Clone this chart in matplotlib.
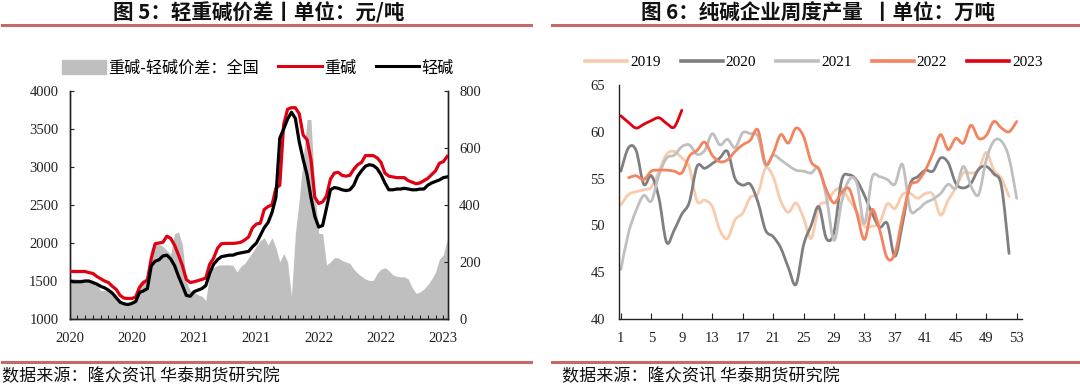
import numpy as np
import matplotlib
matplotlib.use("Agg")
import matplotlib.pyplot as plt
from matplotlib.lines import Line2D
from matplotlib.patches import Patch, PathPatch
from matplotlib.path import Path

CJK = ['Noto Sans CJK SC', 'DejaVu Sans']
SERIF = ['Liberation Serif', 'DejaVu Serif']
plt.rcParams['font.family'] = CJK

# ---------------- Left chart data (元/吨) ----------------
left_title = "图 5：轻重碱价差丨单位：元/吨"
left_xlabels = ["2020", "2020", "2021", "2021", "2022", "2022", "2023"]
heavy_soda = [1630, 1625, 1625, 1625, 1625, 1610, 1600, 1560, 1530, 1500, 1480, 1430, 1390, 1310, 1275, 1270,
              1270, 1290, 1420, 1480, 1510, 1800, 1990, 2000, 2010, 2090, 2060, 1970, 1840, 1700, 1520, 1480,
              1490, 1505, 1520, 1540, 1720, 1800, 1930, 1990, 1995, 1995, 1995, 2000, 2010, 2040, 2080, 2200,
              2250, 2260, 2440, 2480, 2500, 2720, 2760, 3560, 3760, 3780, 3780, 3700, 3420, 3360, 3100, 2600,
              2520, 2540, 2620, 2840, 2920, 2930, 2890, 2880, 2890, 2970, 3030, 3060, 3150, 3150, 3150, 3120,
              3060, 2920, 2880, 2870, 2860, 2860, 2860, 2820, 2800, 2780, 2790, 2820, 2850, 2900, 2950, 3050,
              3070, 3140]
light_soda = [1500, 1490, 1490, 1490, 1500, 1500, 1480, 1460, 1430, 1410, 1380, 1340, 1280, 1220, 1200, 1190,
              1205, 1230, 1350, 1370, 1400, 1700, 1760, 1780, 1830, 1840, 1790, 1700, 1560, 1440, 1310, 1300,
              1360, 1380, 1400, 1440, 1600, 1720, 1780, 1820, 1830, 1840, 1840, 1860, 1870, 1880, 1890, 1950,
              2000, 2100, 2200, 2270, 2400, 2600, 3380, 3500, 3630, 3720, 3640, 3330, 3100, 2900, 2600, 2350,
              2210, 2230, 2460, 2700, 2730, 2720, 2700, 2690, 2700, 2760, 2880, 2950, 3010, 3030, 3020, 2980,
              2900, 2790, 2700, 2700, 2710, 2710, 2720, 2710, 2700, 2700, 2710, 2710, 2760, 2790, 2810, 2830,
              2860, 2870]
spread = [142, 142, 140, 140, 140, 137, 125, 120, 100, 100, 100, 90, 80, 60, 55, 55,
          55, 60, 130, 140, 148, 250, 262, 262, 255, 240, 228, 300, 305, 260, 130, 100,
          95, 85, 80, 65, 160, 180, 188, 190, 190, 190, 188, 165, 185, 195, 215, 235,
          255, 275, 285, 260, 285, 250, 200, 230, 200, 80, 300, 420, 560, 700, 700, 450,
          300, 300, 190, 200, 215, 215, 205, 200, 195, 175, 160, 150, 140, 135, 135, 160,
          175, 180, 170, 155, 150, 148, 148, 140, 110, 90, 95, 105, 120, 140, 165, 210,
          225, 280]

# ---------------- Right chart data (万吨) ----------------
right_title = "图 6：纯碱企业周度产量  丨单位：万吨"
years = ["2019", "2020", "2021", "2022", "2023"]
y2019 = [52.2, 53.3, 53.6, 53.8, 54.1, 55.8, 57.6, 57.9, 57.2, 56.2, 52.6, 52.7, 52.0, 49.5, 48.6, 50.6,
         51.3, 53.0, 53.4, 56.1, 55.2, 52.6, 51.4, 52.4, 50.8, 48.6, 52.0, 52.5, 53.6, 54.0, 52.7, 51.5,
         49.9, 49.9, 50.3, 52.3, 51.8, 53.3, 53.4, 52.9, 53.4, 53.3, 51.1, 52.7, 54.0, 55.6, 55.6, 55.9,
         57.8, 55.9, 55.0, 53.1]
y2020 = [55.8, 58.3, 58.0, 54.4, 55.3, 52.9, 48.2, 49.5, 51.2, 52.5, 56.3, 56.1, 56.6, 57.2, 57.9, 55.0,
         54.3, 54.4, 52.5, 49.5, 48.8, 47.6, 45.5, 43.7, 47.9, 50.0, 52.0, 48.6, 49.3, 54.8, 55.4, 54.8,
         53.2, 51.3, 49.8, 50.2, 46.7, 50.2, 54.4, 55.2, 55.9, 55.8, 57.2, 56.7, 54.5, 54.0, 54.5, 56.0,
         56.3, 55.5, 54.2, 47.0]
y2021 = [45.3, 49.2, 51.6, 53.2, 52.6, 55.4, 57.2, 57.5, 58.4, 58.6, 57.6, 58.0, 59.8, 58.6, 59.2, 58.3,
         59.9, 59.8, 59.5, 56.4, 57.5, 57.0, 56.4, 55.9, 55.8, 55.6, 56.1, 53.0, 48.4, 52.5, 54.9, 54.5,
         50.2, 55.1, 55.2, 54.9, 54.4, 56.5, 51.7, 51.7, 52.4, 52.8, 53.4, 54.4, 54.0, 56.3, 54.2, 53.3,
         57.0, 59.0, 59.0, 57.2, 52.9]
y2022 = [np.nan, 55.1, 55.3, 54.9, 55.8, 55.9, 55.9, 55.8, 55.6, 57.4, 58.0, 58.9, 57.5, 56.8, 57.0, 57.9,
         58.6, 59.1, 60.2, 56.6, 57.7, 59.7, 58.8, 60.4, 59.5, 56.8, 56.0, 53.8, 52.4, 53.5, 53.9, 51.3,
         48.5, 51.7, 49.5, 46.5, 47.0, 50.9, 54.2, 54.7, 55.9, 57.7, 59.7, 58.1, 59.3, 58.8, 60.7, 59.3,
         59.6, 61.1, 60.4, 60.0, 61.1]
y2023 = [61.7, 61.0, 60.4, 60.8, 61.2, 61.5, 60.9, 60.5, 62.3]
right_xticks = list(range(1, 54, 4))

source_text = "数据来源：隆众资讯 华泰期货研究院"

W, H = 1080, 385
fig = plt.figure(figsize=(W / 100, H / 100), dpi=100)


def fx(px):
    return px / W


def fy(py):
    return 1 - py / H


def smooth_path(x, y, t=1 / 6):
    """Bezier path through the data points (like a spreadsheet 'smoothed line')."""
    x = np.asarray(x, float)
    y = np.asarray(y, float)
    ok = ~np.isnan(y)
    x, y = x[ok], y[ok]
    n = len(x)
    verts = [(x[0], y[0])]
    codes = [Path.MOVETO]
    for i in range(n - 1):
        p0 = (x[max(i - 1, 0)], y[max(i - 1, 0)])
        p1 = (x[i], y[i])
        p2 = (x[i + 1], y[i + 1])
        p3 = (x[min(i + 2, n - 1)], y[min(i + 2, n - 1)])
        c1 = (p1[0] + (p2[0] - p0[0]) * t, p1[1] + (p2[1] - p0[1]) * t)
        c2 = (p2[0] - (p3[0] - p1[0]) * t, p2[1] - (p3[1] - p1[1]) * t)
        verts += [c1, c2, p2]
        codes += [Path.CURVE4] * 3
    return Path(verts, codes)


rule_color = "#C46A6A"
fig.text(fx(259), fy(13), left_title, ha="center", va="center", fontsize=14.8, fontweight="bold",
         family=CJK, color="#111111")
fig.text(fx(818), fy(13), right_title, ha="center", va="center", fontsize=14.8, fontweight="bold",
         family=CJK, color="#111111")
for x0, x1 in [(2, 531), (552, 1080)]:
    fig.add_artist(Line2D([fx(x0), fx(x1)], [fy(25), fy(25)], color=rule_color, lw=2.2))
    fig.add_artist(Line2D([fx(x0), fx(x1)], [fy(362), fy(362)], color=rule_color, lw=2.2))
fig.text(fx(2), fy(376), source_text, ha="left", va="center", fontsize=12.3, family=CJK, color="#111111")
fig.text(fx(562), fy(376), source_text, ha="left", va="center", fontsize=12.3, family=CJK, color="#111111")

# ---------------- Left chart ----------------
axL = fig.add_axes([fx(69.5), fy(319), fx(448) - fx(69.5), fy(91) - fy(319)])
axR = axL.twinx()
xl = np.arange(len(heavy_soda))
axR.fill_between(xl, 0, spread, color="#BFBFBF", lw=0)
axR.set_ylim(0, 800)
axR.set_yticks([0, 200, 400, 600, 800])
axL.plot(xl, heavy_soda, color="#E00012", lw=2.3, zorder=3, solid_joinstyle="round")
axL.plot(xl, light_soda, color="#000000", lw=2.3, zorder=4, solid_joinstyle="round")
axL.set_ylim(1000, 4000)
axL.set_yticks(range(1000, 4001, 500))
axL.set_xlim(0, 97.2)
axL.set_zorder(axR.get_zorder() + 1)
axL.patch.set_visible(False)
axL.set_xticks(np.arange(0, 97, 16))
axL.set_xticklabels(left_xlabels)
axL.set_xticks(np.arange(2, 97, 2), minor=True)
for a in (axL, axR):
    a.spines["top"].set_visible(False)
    for s in ("left", "right", "bottom"):
        a.spines[s].set_linewidth(1.0)
        a.spines[s].set_color("#222222")
    a.tick_params(axis="both", which="both", direction="in", length=3, width=0.8, color="#222222")
    a.tick_params(axis="y", pad=8)
    for lab in a.get_yticklabels() + a.get_xticklabels():
        lab.set_family(SERIF)
        lab.set_fontsize(10.5)
        lab.set_color("#222222")
axL.tick_params(axis="x", which="major", pad=9)

fig.legend(handles=[Patch(color="#BFBFBF", label="重碱-轻碱价差：全国"),
                    Line2D([], [], color="#E00012", lw=2.2, label="重碱"),
                    Line2D([], [], color="#000000", lw=2.2, label="轻碱")],
           loc="center", bbox_to_anchor=(fx(258), fy(68)), ncol=3, frameon=False,
           prop={"family": CJK, "size": 11.6}, handlelength=2.7, handleheight=0.9,
           columnspacing=1.2, handletextpad=0.15)

# ---------------- Right chart ----------------
ax2 = fig.add_axes([fx(619), fy(319), fx(1022) - fx(619), fy(85) - fy(319)])
colors = ["#F8CBAD", "#7F7F7F", "#BFBFBF", "#F4845F", "#E00012"]
series = [y2019, y2020, y2021, y2022, y2023]
handles = []
for name, vals, c in zip(years, series, colors):
    wk = np.arange(1, len(vals) + 1)
    patch = PathPatch(smooth_path(wk, vals), facecolor="none", edgecolor=c, lw=2.0,
                      capstyle="round", joinstyle="round", transform=ax2.transData)
    ax2.add_patch(patch)
    handles.append(Line2D([], [], color=c, lw=2.6, label=name))
ax2.set_ylim(40, 65)
ax2.set_yticks(range(40, 66, 5))
ax2.set_xlim(0.75, 53.7)
ax2.set_xticks(right_xticks)
for s in ("top", "right"):
    ax2.spines[s].set_visible(False)
for s in ("left", "bottom"):
    ax2.spines[s].set_linewidth(1.0)
    ax2.spines[s].set_color("#222222")
ax2.tick_params(axis="x", direction="in", length=4, width=0.8, color="#222222", pad=9)
ax2.tick_params(axis="y", length=0, pad=10)
for lab in ax2.get_yticklabels() + ax2.get_xticklabels():
    lab.set_family(SERIF)
    lab.set_fontsize(10.5)
    lab.set_color("#222222")

fig.legend(handles=handles, loc="center", bbox_to_anchor=(fx(814), fy(62)), ncol=5, frameon=False,
           prop={"family": SERIF, "size": 11}, handlelength=2.75, columnspacing=1.3, handletextpad=0.2)

fig.savefig("out.png", dpi=100)
